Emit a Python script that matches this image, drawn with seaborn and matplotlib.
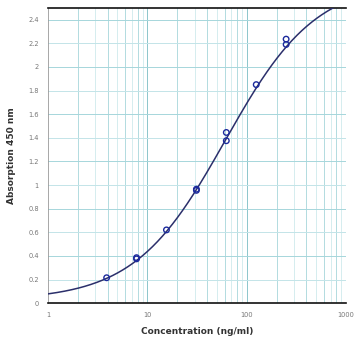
import numpy as np
import pandas as pd
import matplotlib
matplotlib.use("Agg")
import matplotlib.pyplot as plt
import seaborn as sns
from matplotlib.ticker import FixedLocator, NullFormatter

conc = [3.9, 7.8, 7.8, 15.6, 31.25, 31.25, 62.5, 62.5, 125, 250, 250]
absorb = [0.215, 0.375, 0.385, 0.62, 0.955, 0.965, 1.375, 1.445, 1.85, 2.19, 2.235]

# 4PL fit parameters estimated from the drawn curve
bottom, top, ec50, hill = 0.025, 2.73, 61.0, 0.95

x_ticks = [1, 10, 100, 1000]
x_labels = ["1", "10", "100", "1000"]
y_ticks = [0, 0.2, 0.4, 0.6, 0.8, 1, 1.2, 1.4, 1.6, 1.8, 2, 2.2, 2.4]
y_labels = ["0", "0.2", "0.4", "0.6", "0.8", "1", "1.2", "1.4", "1.6", "1.8", "2", "2.2", "2.4"]

pts = pd.DataFrame({"conc": conc, "abs": absorb})
xs = np.logspace(0, 3, 300)
fit = pd.DataFrame({"conc": xs, "abs": top + (bottom - top) / (1 + (xs / ec50) ** hill)})

sns.set_style("white")
fig = plt.figure(figsize=(3.63, 3.41), dpi=100)
ax = fig.add_axes([0.132, 0.111, 0.821, 0.866])
ax.set_xscale("log")

# grid
minor = [m * 10 ** d for d in range(3) for m in range(2, 10)]
for v in minor:
    strong = int(round(v / 10 ** np.floor(np.log10(v)))) in (2, 4, 6, 8)
    ax.axvline(v, color="#a6d6db" if strong else "#cfeaed", lw=0.6, zorder=0)
for v in [10, 100]:
    ax.axvline(v, color="#8cc6cc", lw=0.7, zorder=0)
for i, v in enumerate(y_ticks[1:]):
    ax.axhline(v, color="#a6d6db" if i % 2 else "#c3e4e8", lw=0.7, zorder=0)

sns.lineplot(data=fit, x="conc", y="abs", ax=ax, color="#2b2f6b", lw=1.1, zorder=3)
sns.scatterplot(data=pts, x="conc", y="abs", ax=ax, marker="o", s=16,
                facecolor="none", edgecolor="#1c2a9c", linewidth=1.0, zorder=4)

ax.set_xlim(1, 1000)
ax.set_ylim(0, 2.5)
ax.xaxis.set_major_locator(FixedLocator(x_ticks))
ax.set_xticklabels(x_labels)
ax.xaxis.set_minor_formatter(NullFormatter())
ax.set_yticks(y_ticks)
ax.set_yticklabels(y_labels)
ax.tick_params(axis="both", which="major", labelsize=4.8, labelcolor="#777777",
               length=3, width=0.6, color="#888888", direction="out")
ax.tick_params(axis="x", which="minor", length=0)

for s in ["top", "bottom"]:
    ax.spines[s].set_color("#111111")
    ax.spines[s].set_linewidth(1.2)
ax.spines["left"].set_color("#999999")
ax.spines["left"].set_linewidth(0.6)
ax.spines["right"].set_visible(False)

ax.set_xlabel("Concentration (ng/ml)", fontsize=6.5, fontweight="bold", color="#333333", labelpad=6)
ax.set_ylabel("Absorption 450 nm", fontsize=6.5, fontweight="bold", color="#333333", labelpad=9)

fig.savefig("out.png", dpi=100)
